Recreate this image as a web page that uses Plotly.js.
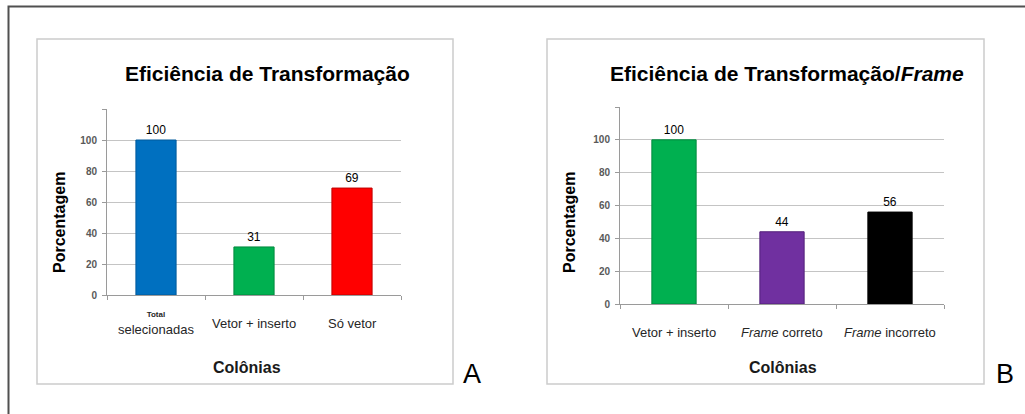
<!DOCTYPE html>
<html>
<head>
<meta charset="utf-8">
<script src="https://cdn.plot.ly/plotly-3.0.1.min.js"></script>
<style>html,body{margin:0;padding:0;background:#fff;}#chart{width:1025px;height:414px;}</style>
</head>
<body>
<div id="chart"></div>
<script>
// ---- Data ----
const categoriesA = ["Total selecionadas", "Vetor + inserto", "Só vetor"];
const labelsA = ['<span style="font-size:8px"><b>Total</b></span><br>selecionadas', "Vetor + inserto", "Só vetor"];
const valuesA = [100, 31, 69];
const colorsA = ["#0070C0", "#00B050", "#FF0000"];
const edgeA = ["#005A9C", "#008A3E", "#C00000"];

const categoriesB = ["Vetor + inserto", "Frame correto", "Frame incorreto"];
const labelsB = ["Vetor + inserto", "<i>Frame</i> correto", "<i>Frame</i> incorreto"];
const valuesB = [100, 44, 56];
const colorsB = ["#00B050", "#7030A0", "#000000"];
const edgeB = ["#008A3E", "#52207A", "#000000"];

const yTickVals = [0, 20, 40, 60, 80, 100, 120];
const yTickText = ["0", "20", "40", "60", "80", "100", ""];

const titleA = "Eficiência de Transformação";
const titleB = "Eficiência de Transformação/<i>Frame</i>";
const yTitle = "Porcentagem";
const xTitle = "Colônias";

// ---- Layout helpers (pixel -> paper) ----
const W = 1025, H = 414;
const px = x => x / W;
const py = y => 1 - y / H;
const FONT = "Liberation Sans, Arial, sans-serif";

function barTrace(cats, vals, colors, edges, xa, ya) {
  return {
    type: "bar", x: cats, y: vals, xaxis: xa, yaxis: ya,
    marker: {color: colors, line: {color: edges, width: 1}},
    text: vals.map(String), textposition: "outside", cliponaxis: false,
    textfont: {family: FONT, size: 12, color: "#000"},
    hoverinfo: "none", showlegend: false
  };
}

const data = [
  barTrace(categoriesA, valuesA, colorsA, edgeA, "x", "y"),
  barTrace(categoriesB, valuesB, colorsB, edgeB, "x2", "y2")
];

function xAxis(domain, anchor) {
  return {
    domain: domain, anchor: anchor, type: "category",
    showline: true, linecolor: "#9a9a9a", linewidth: 1,
    ticks: "outside", tickson: "boundaries", ticklen: 4, tickcolor: "#9a9a9a",
    showgrid: false, showticklabels: false, zeroline: false, fixedrange: true
  };
}
function yAxis(domain, anchor) {
  return {
    domain: domain, anchor: anchor, range: [0, 120],
    tickvals: yTickVals, ticktext: yTickText,
    showline: true, linecolor: "#9a9a9a", linewidth: 1,
    ticks: "outside", ticklen: 4, tickcolor: "#9a9a9a", ticklabelstandoff: 3,
    gridcolor: "#c4c4c4", gridwidth: 1, zeroline: false,
    tickfont: {family: FONT, size: 10, color: "#595959", weight: "bold"},
    fixedrange: true
  };
}

const annotations = [];
function ann(text, x, y, size, opts) {
  annotations.push(Object.assign({
    text: text, x: x, y: y, xref: "paper", yref: "paper",
    xanchor: "center", yanchor: "middle", showarrow: false,
    font: {family: FONT, size: size, color: "#000"}
  }, opts || {}));
}
// Panel titles
ann("<b>" + titleA + "</b>", px(267), py(73), 21);
ann("<b>" + titleB + "</b>", px(787), py(73), 21);
// Y titles
ann("<b>" + yTitle + "</b>", px(60), py(223), 16, {textangle: -90});
ann("<b>" + yTitle + "</b>", px(570), py(223), 16, {textangle: -90});
// X titles
ann("<b>" + xTitle + "</b>", px(247), py(367), 16, {font: {family: FONT, size: 16, color: "#1a1a1a"}});
ann("<b>" + xTitle + "</b>", px(783), py(367), 16, {font: {family: FONT, size: 16, color: "#1a1a1a"}});
// Category labels (placed on category scale)
categoriesA.forEach((c, i) => annotations.push({
  text: labelsA[i], x: c, xref: "x", y: py(323), yref: "paper",
  xanchor: "center", yanchor: "middle", showarrow: false,
  font: {family: FONT, size: 13, color: "#262626"}
}));
categoriesB.forEach((c, i) => annotations.push({
  text: labelsB[i], x: c, xref: "x2", y: py(332), yref: "paper",
  xanchor: "center", yanchor: "middle", showarrow: false,
  font: {family: FONT, size: 13, color: "#262626"}
}));
// Panel letters
ann("A", px(472), py(374), 27);
ann("B", px(1005), py(374), 27);

const shapes = [
  {type: "rect", xref: "paper", yref: "paper", x0: px(37), x1: px(453), y0: py(384), y1: py(39),
   line: {color: "#cccccc", width: 1.5}},
  {type: "rect", xref: "paper", yref: "paper", x0: px(547), x1: px(984), y0: py(384), y1: py(39),
   line: {color: "#cccccc", width: 1.5}},
  {type: "path", xref: "paper", yref: "paper",
   path: "M " + px(8.5) + " " + py(414) + " L " + px(8.5) + " " + py(6.5) + " L " + px(1025) + " " + py(6.5),
   line: {color: "#505050", width: 2}}
];

const layout = {
  width: W, height: H,
  margin: {l: 0, r: 0, t: 0, b: 0, pad: 0},
  paper_bgcolor: "#ffffff", plot_bgcolor: "rgba(0,0,0,0)",
  bargap: 0.59,
  xaxis: xAxis([px(107), px(401)], "y"),
  yaxis: yAxis([py(295), py(109)], "x"),
  xaxis2: xAxis([px(620), px(944)], "y2"),
  yaxis2: yAxis([py(304), py(107)], "x2"),
  annotations: annotations,
  shapes: shapes,
  font: {family: FONT}
};

Plotly.newPlot("chart", data, layout, {displayModeBar: false, staticPlot: true});
</script>
</body>
</html>
